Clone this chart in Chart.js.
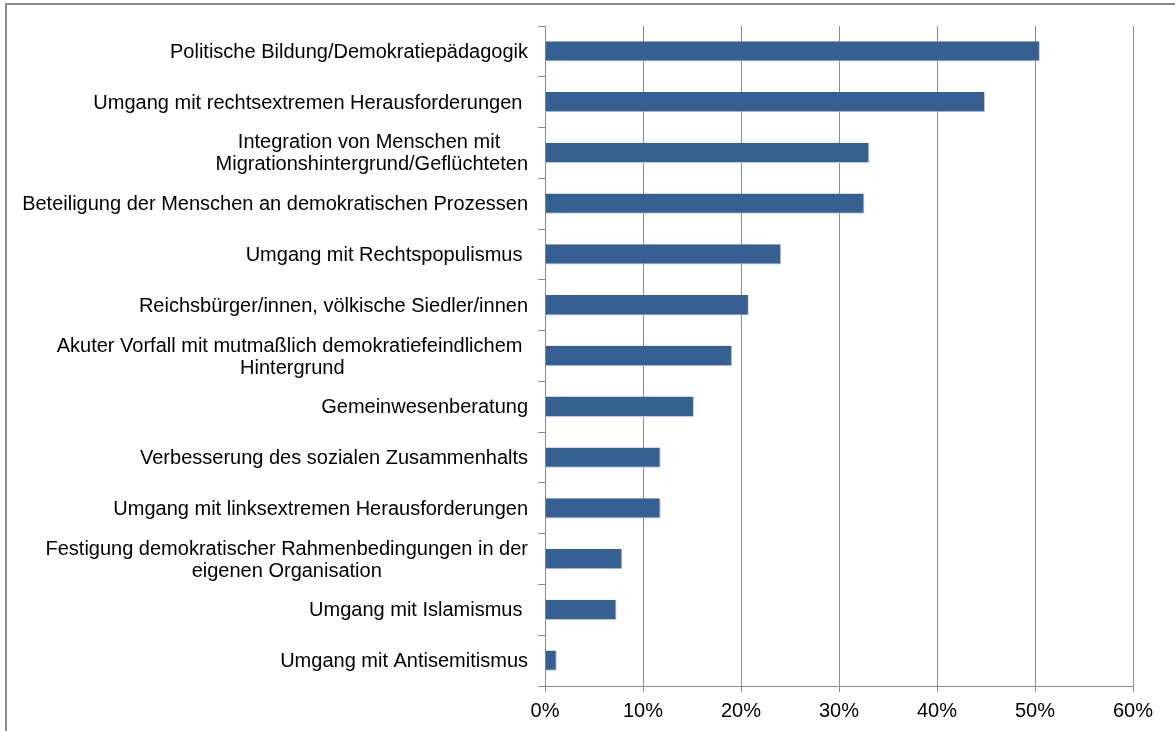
<!DOCTYPE html>
<html>
<head>
<meta charset="utf-8">
<script src="https://cdn.jsdelivr.net/npm/chart.js@4/dist/chart.umd.min.js"></script>
<style>
    html, body { margin: 0; padding: 0; background: #fff; }
    #wrap { position: relative; width: 1175px; height: 731px; }
    #frame {
        position: absolute; left: 5px; top: 3px; right: 0; bottom: 0;
        border-top: 2px solid #8c8c8c; border-left: 2px solid #8c8c8c;
    }
    canvas { position: absolute; left: 0; top: 0; }
</style>
</head>
<body>
<div id="wrap">
    <div id="frame"></div>
    <canvas id="chart" width="1175" height="731"></canvas>
</div>
<script>
// categories (multi-line ones are arrays)
const categories = [
    'Politische Bildung/Demokratiepädagogik',
    'Umgang mit rechtsextremen Herausforderungen ',
    ['Integration von Menschen mit ', 'Migrationshintergrund/Geflüchteten'],
    'Beteiligung der Menschen an demokratischen Prozessen',
    'Umgang mit Rechtspopulismus ',
    'Reichsbürger/innen, völkische Siedler/innen',
    ['Akuter Vorfall mit mutmaßlich demokratiefeindlichem ', 'Hintergrund'],
    'Gemeinwesenberatung',
    'Verbesserung des sozialen Zusammenhalts',
    'Umgang mit linksextremen Herausforderungen',
    ['Festigung demokratischer Rahmenbedingungen in der', 'eigenen Organisation'],
    'Umgang mit Islamismus ',
    'Umgang mit Antisemitismus'
];
// shares in percent
const values = [50.5, 44.9, 33.1, 32.6, 24.1, 20.8, 19.1, 15.2, 11.8, 11.8, 7.9, 7.3, 1.2];
const xTicks = [0, 10, 20, 30, 40, 50, 60];

const FONT = '"Liberation Sans", Arial, sans-serif';
const GRID = '#8c8c8c';

// draws the y labels: block right-aligned, lines centred inside the block
const yLabels = {
    id: 'yLabels',
    afterDraw(chart) {
        const ctx = chart.ctx;
        const y = chart.scales.y;
        const right = chart.chartArea.left - 17;
        const lh = 22;
        ctx.save();
        ctx.font = '20px ' + FONT;
        ctx.fillStyle = '#000';
        ctx.textBaseline = 'middle';
        ctx.textAlign = 'center';
        categories.forEach((lab, i) => {
            const lines = Array.isArray(lab) ? lab : [lab];
            const w = Math.max(...lines.map(l => ctx.measureText(l).width));
            const cx = right - w / 2;
            const cy = y.getPixelForTick(i);
            lines.forEach((l, j) => {
                ctx.fillText(l, cx, cy + (j - (lines.length - 1) / 2) * lh + 1);
            });
        });
        ctx.restore();
    }
};

new Chart(document.getElementById('chart'), {
    type: 'bar',
    data: {
        labels: categories,
        datasets: [{
            data: values,
            backgroundColor: '#366092',
            borderColor: '#b9c9df',
            borderWidth: { top: 0, left: 0, right: 1, bottom: 1 },
            borderSkipped: false,
            categoryPercentage: 1.0,
            barPercentage: 0.4
        }]
    },
    options: {
        indexAxis: 'y',
        responsive: false,
        animation: false,
        layout: { padding: { left: 0, top: 26, right: 42, bottom: 0 } },
        plugins: { legend: { display: false }, tooltip: { enabled: false } },
        scales: {
            y: {
                afterFit: s => { s.width = 545; },
                ticks: { display: false },
                grid: { drawOnChartArea: false, drawTicks: true, tickLength: 7, color: GRID, offset: true },
                border: { display: true, color: GRID, width: 1 }
            },
            x: {
                min: 0,
                max: 60,
                afterFit: s => { s.height = 45; },
                afterBuildTicks: s => { s.ticks = xTicks.map(v => ({ value: v })); },
                ticks: {
                    padding: 7,
                    color: '#000',
                    font: { family: FONT, size: 20 },
                    callback: v => v + '%'
                },
                grid: { drawOnChartArea: true, drawTicks: true, tickLength: 6, color: GRID, lineWidth: 1 },
                border: { display: true, color: GRID, width: 1 }
            }
        }
    },
    plugins: [yLabels]
});
</script>
</body>
</html>
